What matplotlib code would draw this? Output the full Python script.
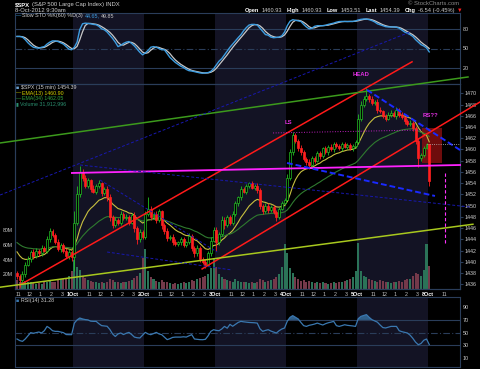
import matplotlib
matplotlib.use("Agg")
import numpy as np
import matplotlib.pyplot as plt
from matplotlib.patches import Rectangle

plt.rcParams["font.family"] = ["Liberation Sans", "DejaVu Sans"]

# 15-minute slots, 26 per session; slot 0 = Fri 28-Sep 9:30
first_slot = 5
day_names = ["28Sep", "1Oct", "2Oct", "3Oct", "4Oct", "5Oct", "8Oct"]
hour_ticks = [(6, "11"), (10, "12"), (14, "1"), (18, "2"), (22, "3")]
shaded_days = [1, 3, 5]

first_open = 1438.0
close_sep28 = [1437.5, 1436.8, 1437.8, 1439.5, 1440.5, 1441.8, 1441.0, 1442.0, 1441.5, 1442.5, 1442.0,
               1444.0, 1445.5, 1444.8, 1443.5, 1442.3, 1443.0, 1442.0, 1441.0, 1441.8, 1440.8]
close_oct1 = [1447.0, 1452.0, 1456.0, 1455.0, 1453.5, 1454.5, 1453.0, 1452.5, 1453.5, 1454.0, 1452.3, 1453.0, 1451.5,
              1448.0, 1446.5, 1447.5, 1447.0, 1448.5, 1447.8, 1448.0, 1447.0, 1448.3, 1446.0, 1444.0, 1445.3, 1444.5]
close_oct2 = [1448.5, 1449.5, 1448.0, 1448.5, 1447.5, 1449.0, 1446.5, 1445.5, 1444.2, 1444.5, 1443.5, 1443.2, 1443.5,
              1444.0, 1443.0, 1443.5, 1444.6, 1442.5, 1441.5, 1442.5, 1440.5, 1440.0, 1439.5, 1441.5, 1443.8, 1445.75]
close_oct3 = [1443.5, 1445.0, 1447.5, 1446.5, 1448.0, 1447.0, 1448.5, 1450.5, 1451.5, 1453.0, 1452.5, 1453.5, 1454.0,
              1453.2, 1453.5, 1452.8, 1450.0, 1449.0, 1450.0, 1449.2, 1449.8, 1448.8, 1448.0, 1449.5, 1450.5, 1450.99]
close_oct4 = [1455.0, 1459.5, 1462.5, 1461.5, 1460.3, 1459.5, 1458.3, 1457.8, 1457.2, 1458.5, 1458.0, 1459.3, 1458.8,
              1460.2, 1459.5, 1460.5, 1460.0, 1461.0, 1460.6, 1460.2, 1461.0, 1460.5, 1460.8, 1460.2, 1460.6, 1461.4]
close_oct5 = [1465.5, 1468.0, 1469.0, 1469.5, 1469.0, 1468.3, 1468.5, 1467.0, 1466.8, 1466.0, 1465.5, 1466.2, 1466.5,
              1466.0, 1467.0, 1466.2, 1465.7, 1465.0, 1464.5, 1464.8, 1463.8, 1461.5, 1458.5, 1459.0, 1460.3, 1460.93]
close_oct8 = [1454.39]

# wick lengths beyond the body (points)
wick_up = ([0.4, 0.3, 0.5, 0.4, 0.6, 0.3, 0.5, 0.4, 0.3, 0.5, 0.4, 0.6, 0.5, 0.4, 0.3, 0.5, 0.4, 0.3, 0.4, 0.5, 0.3]
           + [2.0, 1.5, 1.1, 0.6, 0.4, 0.5, 0.3, 0.6, 0.4, 0.5, 0.3, 0.4, 0.5, 0.6, 0.4, 0.5, 0.3, 0.6, 0.4, 0.5, 0.3, 0.4, 0.5, 0.3, 0.6, 0.4]
           + [0.6, 2.0, 0.5, 0.4, 0.6, 0.5, 0.3, 0.4, 0.5, 0.3, 0.4, 0.5, 0.3, 0.4, 0.5, 0.3, 0.6, 0.4, 0.3, 0.5, 0.4, 0.3, 0.5, 0.4, 0.6, 0.5]
           + [0.5, 0.4, 0.6, 0.5, 0.4, 0.3, 0.5, 0.4, 0.3, 0.5, 0.4, 0.3, 0.3, 0.4, 0.3, 0.5, 0.4, 0.3, 0.5, 0.4, 0.3, 0.4, 0.5, 0.3, 0.4, 0.3]
           + [0.6, 0.5, 0.64, 0.4, 0.3, 0.5, 0.4, 0.3, 0.5, 0.4, 0.3, 0.4, 0.5, 0.3, 0.4, 0.3, 0.5, 0.3, 0.4, 0.3, 0.4, 0.3, 0.4, 0.3, 0.4, 0.3]
           + [0.8, 0.6, 0.5, 1.46, 0.4, 0.5, 0.3, 0.4, 0.5, 0.3, 0.4, 0.5, 0.6, 0.4, 0.5, 0.3, 0.4, 0.3, 0.5, 0.4, 0.3, 0.4, 0.5, 0.4, 0.3, 0.2]
           + [0.0])
wick_down = ([0.5, 1.2, 0.3, 0.4, 0.3, 0.5, 0.4, 0.3, 0.5, 0.4, 0.3, 0.4, 0.5, 0.3, 0.4, 0.3, 0.5, 0.4, 0.3, 0.4, 0.6]
             + [2.4, 0.5, 0.4, 0.6, 0.3, 0.4, 0.5, 0.3, 0.4, 0.3, 0.5, 0.4, 0.6, 0.8, 0.5, 0.3, 0.4, 0.5, 0.3, 0.4, 0.5, 0.3, 0.6, 0.9, 0.4, 0.5]
             + [0.5, 0.4, 0.6, 0.3, 0.5, 0.4, 0.6, 0.5, 0.4, 0.3, 0.5, 0.4, 0.3, 0.5, 0.4, 0.3, 0.4, 0.5, 0.6, 0.4, 0.5, 0.4, 0.5, 0.3, 0.4, 0.3]
             + [1.5, 0.5, 0.4, 0.6, 0.3, 0.5, 0.4, 0.3, 0.5, 0.4, 0.3, 0.5, 0.4, 0.3, 0.4, 0.5, 0.6, 0.4, 0.3, 0.5, 0.4, 0.3, 0.7, 0.4, 0.3, 0.4]
             + [0.0, 0.5, 0.4, 0.3, 0.5, 0.4, 0.3, 0.5, 0.6, 0.3, 0.4, 0.3, 0.5, 0.4, 0.3, 0.4, 0.3, 0.5, 0.4, 0.3, 0.4, 0.3, 0.4, 0.3, 0.4, 0.3]
             + [0.3, 0.4, 0.5, 0.4, 0.5, 0.3, 0.4, 0.5, 0.3, 0.4, 0.5, 0.3, 0.4, 0.3, 0.5, 0.4, 0.3, 0.5, 0.4, 0.3, 0.5, 0.6, 1.6, 0.5, 0.4, 0.3]
             + [0.88])

# volume in millions
volume_m = ([12, 10, 9, 11, 10, 9, 8, 7, 8, 7, 9, 10, 11, 9, 10, 12, 14, 13, 15, 18, 25]
            + [40, 30, 26, 18, 15, 12, 11, 10, 9, 8, 9, 8, 10, 14, 12, 10, 9, 8, 9, 10, 11, 12, 15, 18, 22, 42]
            + [55, 24, 16, 13, 11, 10, 12, 10, 9, 8, 7, 8, 7, 8, 9, 8, 10, 12, 11, 13, 15, 16, 18, 20, 28, 42]
            + [30, 20, 16, 13, 12, 11, 10, 13, 11, 9, 10, 9, 8, 9, 8, 9, 14, 12, 10, 11, 12, 13, 16, 20, 30, 61]
            + [49, 28, 22, 16, 13, 11, 12, 10, 11, 9, 8, 9, 8, 9, 8, 7, 8, 9, 8, 9, 10, 11, 12, 14, 17, 24]
            + [62, 24, 18, 16, 13, 12, 11, 10, 12, 11, 10, 9, 8, 9, 10, 11, 10, 12, 13, 14, 18, 22, 20, 18, 26, 61]
            + [31.9])

# Slow STO %K(60)
sto_k = ([69, 69, 68, 64, 59, 55, 52, 51, 50.5, 52, 53, 57, 60, 62, 62, 61, 59, 57, 53, 49, 48]
         + [52, 60, 80, 89, 90, 89.5, 89, 88, 87.5, 85, 81, 79.5, 76, 71, 66, 60, 53, 55, 58, 60, 61, 58, 54, 49, 44, 40]
         + [43, 47, 52, 53, 52, 50, 48, 48, 42, 36, 32, 28, 25, 22, 20, 17, 15, 14.5, 13.5, 12.5, 11.5, 11, 11.5, 12, 14, 18]
         + [24, 30, 34, 40, 46, 52, 57, 62, 67, 71.7, 78, 83, 87, 88, 88, 87, 82, 77, 72, 71, 68, 67, 67.5, 68, 70, 76]
         + [86, 93, 95.4, 94.5, 93.5, 92.7, 88, 84, 81, 82, 85, 86, 86, 86, 86.5, 88, 89, 90, 91.5, 92.5, 92.7, 92.7, 92.5, 92.7, 92.7, 93.5]
         + [95, 96, 96.5, 96.5, 95.5, 94, 92, 89, 87.5, 86, 84.5, 84, 84, 84, 83.5, 82, 79, 76, 74, 72, 69, 64, 60, 56, 54, 51]
         + [44.65])

# RSI(14)
rsi14 = ([40, 37.5, 36.3, 40, 45, 50, 49, 50, 51, 49.5, 53, 59.8, 57, 53, 52, 52, 51, 50, 47, 46.8, 46.8]
         + [65, 70, 73, 71.5, 70.5, 70, 68, 67.7, 67.7, 64, 61, 60.5, 60, 55, 48, 44, 48, 49.4, 47, 49, 50.4, 47, 43, 42, 41.6, 46]
         + [50.4, 48, 46.8, 48.5, 50.4, 48, 46.8, 43, 39, 40.5, 42.5, 43, 43, 43, 43.5, 43, 45, 46.8, 40, 39.5, 39, 38.9, 39.5, 45, 52, 54.6]
         + [53.5, 53, 55.7, 59.8, 57, 63, 60, 63, 66, 67.7, 67, 66.5, 66, 65.8, 65.5, 65, 56, 52, 53.5, 54.6, 52.5, 51, 49.4, 53, 55.7, 57.3]
         + [68, 74, 76.7, 74, 71.5, 66, 61, 59.8, 61.5, 62.4, 63.5, 65, 63.5, 62, 64, 65.5, 66.5, 67.7, 61, 59.8, 61, 62.4, 61.5, 61, 60.5, 59.8]
         + [72, 75.6, 77, 78.3, 74, 70.4, 68.5, 66.5, 62, 58, 57.3, 58.5, 59.8, 59.8, 59.8, 53, 51.5, 50.5, 49.4, 46, 41, 35, 31, 33, 38, 40]
         + [31.28])

# hand-drawn annotations: (slot, price) end points
red_channel = [[(6.6, 1435.9), (150.2, 1475.6)], [(73.3, 1438.75), (175.1, 1468.45)]]
green_trend = [(-0.7, 1461.16), (170.7, 1472.9)]
lime_trend = [(-0.7, 1435.5), (172.5, 1446.7)]
neckline = [(25.6, 1455.82), (167.8, 1457.24)]
ls_level = [(99.3, 1462.94), (153.9, 1463.47)]
blue_thin = [[(-0.7, 1451.9), (149.5, 1480.9)], [(28.6, 1457.24), (171.4, 1449.77)],
             [(35.9, 1454.57), (78.8, 1441.76)], [(38.5, 1441.76), (84.3, 1438.56)]]
blue_thick = [[(133.7, 1470.6), (167.8, 1459.9)], [(104.4, 1457.6), (158.6, 1451.73)]]
rs_box = (153.9, 161.2, 1457.6, 1463.83)
target_line = (162.3, 1443.35, 1455.8)
prev_close = (155.7, 167.8, 1460.93)
labels = [("LS", 104.8, 1464.8), ("HEAD", 131.5, 1473.3), ("RS??", 157.1, 1466.05)]

closes = close_sep28 + close_oct1 + close_oct2 + close_oct3 + close_oct4 + close_oct5 + close_oct8
opens = [first_open] + closes[:-1]
n = len(closes)
xs = np.arange(first_slot, first_slot + n) + 0.5
up = [c >= o for o, c in zip(opens, closes)]


def ema(values, span, seed):
    k = 2 / (span + 1)
    out, prev = [], seed
    for v in values:
        prev = prev + k * (v - prev)
        out.append(prev)
    return out


ema13 = ema(closes, 13, 1442.5)
ema34 = ema(closes, 34, 1443.8)
sto_d = [np.mean(sto_k[max(0, i - 2):i + 1]) for i in range(n)]

W, H = 480, 369
x_lo, x_hi = 4.76, 167.77
edge = "#2a3d5a"
band = "#131324"
txt = "#d0d0d0"
tick_size = 3.9

fig = plt.figure(figsize=(4.8, 3.69), dpi=100, facecolor="black")
renderer = fig.canvas.get_renderer()


def panel(top, bottom, face="black"):
    a = fig.add_axes([15 / W, 1 - bottom / H, 445 / W, (bottom - top) / H], facecolor=face)
    a.set_xlim(x_lo, x_hi)
    for s in a.spines.values():
        s.set_color(edge)
        s.set_linewidth(0.8)
    a.tick_params(colors=txt, labelsize=tick_size, length=0, pad=2)
    a.set_xticks([])
    return a


def shade(a):
    for d in shaded_days:
        a.axvspan(26 * d, 26 * d + 26, color=band, lw=0, zorder=0)


def ftext(px, py, s, size=3.9, color=txt, bold=False):
    return fig.text(px / W, 1 - py / H, s, va="center", ha="left", fontsize=size, color=color,
                    fontweight="bold" if bold else "normal")


def run_text(px, py, parts, size):
    # parts: (text, colour, bold, gap after in px)
    for s, color, bold, gap in parts:
        t = ftext(px, py, s, size, color, bold)
        px += t.get_window_extent(renderer).width + gap


# --- stochastic panel ---
ax_sto = panel(13, 84)
shade(ax_sto)
ax_sto.set_ylim(-6, 106)
for lvl, ls in [(80, "-"), (50, (0, (6, 2, 1, 2))), (20, "-")]:
    ax_sto.axhline(lvl, color=edge, lw=0.8, ls=ls, zorder=1)
ax_sto.plot(xs, sto_d, color="#c8c8c8", lw=0.9, zorder=2)
ax_sto.plot(xs, sto_k, color="#3d9de0", lw=1.0, zorder=3)
ax_sto.yaxis.tick_right()
ax_sto.set_yticks([20, 50, 80])

# --- volume (under the price panel) ---
ax_vol = panel(84, 289)
shade(ax_vol)
ax_vol.set_ylim(0, 279)
ax_vol.bar(xs, volume_m, width=0.75, color=["#2b7358" if u else "#74394a" for u in up], lw=0, zorder=1)
ax_vol.set_yticks([20, 40, 60, 80])
ax_vol.set_yticklabels(["20M", "40M", "60M", "80M"])
ax_vol.tick_params(axis="y", labelsize=3.7, pad=1.5)

# --- price panel ---
ax = panel(84, 289, face="none")
ax.set_ylim(1435.18, 1471.65)
highs = [max(o, c) + w for o, c, w in zip(opens, closes, wick_up)]
lows = [min(o, c) - w for o, c, w in zip(opens, closes, wick_down)]
cols = ["#22c022" if u else "#ff2020" for u in up]
ax.vlines(xs, lows, highs, colors=cols, lw=0.6, zorder=4)
for x, o, c, u, col in zip(xs, opens, closes, up, cols):
    ax.add_patch(Rectangle((x - 0.36, min(o, c)), 0.72, max(abs(c - o), 0.12),
                           facecolor="black" if u else col, edgecolor=col, lw=0.5, zorder=5))
ax.plot(xs, ema13, color="#c8c040", lw=0.8, zorder=3)
ax.plot(xs, ema34, color="#2f7a2f", lw=0.8, zorder=3)

x0, x1, y0, y1 = rs_box
ax.add_patch(Rectangle((x0, y0), x1 - x0, y1 - y0, facecolor="#8a1010", alpha=0.8, lw=0, zorder=2))


def seg(pts, **kw):
    (a, b), (c, d) = pts
    ax.plot([a, c], [b, d], clip_on=False, **kw)


for pts in red_channel:
    seg(pts, color="#ff1a1a", lw=1.1, zorder=6)
seg(green_trend, color="#3c9a1c", lw=1.1, zorder=6)
seg(lime_trend, color="#a8c81e", lw=1.1, zorder=6)
seg(neckline, color="#ff22ff", lw=1.3, zorder=6)
seg(ls_level, color="#c020c0", lw=0.7, ls=":", zorder=6)
for pts in blue_thin:
    seg(pts, color="#1818b0", lw=0.7, ls=(0, (3, 2)), zorder=6)
for pts in blue_thick:
    seg(pts, color="#1a2aff", lw=1.4, ls=(0, (3, 1.5)), zorder=6)
ax.vlines(target_line[0], target_line[1], target_line[2], colors="#ff33ff", lw=0.8, ls=(0, (3, 2)), zorder=6)
ax.hlines(prev_close[2], prev_close[0], prev_close[1], colors="#bbbbbb", lw=0.6, ls=":", zorder=6)
for s, x, y in labels:
    ax.text(x, y, s, color="#e030e0", fontsize=4.3, fontweight="bold", ha="center", va="center", zorder=7)

ax.yaxis.tick_right()
ax.set_yticks(np.arange(1436, 1471, 2))
ax.tick_params(axis="y", length=2, color=edge, pad=1.5)

ticks, tick_labels = [], []
for d, name in enumerate(day_names):
    base = 26 * d
    if x_lo < base < x_hi:
        ticks.append(base)
        tick_labels.append(name)
    for off, lab in hour_ticks:
        if x_lo < base + off < x_hi - 3:
            ticks.append(base + off)
            tick_labels.append(lab)
ax.set_xticks(ticks)
ax.set_xticklabels(tick_labels)
ax.tick_params(axis="x", pad=2, labelsize=3.9)
for t in ax.get_xticklabels():
    if t.get_text().endswith("Oct"):
        t.set_fontweight("bold")
        t.set_color("white")
    else:
        t.set_color("#c0c0c0")

# --- RSI panel ---
ax_rsi = panel(297, 367)
shade(ax_rsi)
ax_rsi.set_ylim(-4, 106)
for lvl, ls in [(70, "-"), (50, (0, (6, 2, 1, 2))), (30, "-")]:
    ax_rsi.axhline(lvl, color=edge, lw=0.8, ls=ls, zorder=1)
rsi_arr = np.array(rsi14)
ax_rsi.fill_between(xs, rsi_arr, 70, where=rsi_arr > 70, interpolate=True, color="#2f5f8a", lw=0, zorder=2)
ax_rsi.plot(xs, rsi14, color="#3a78b0", lw=0.9, zorder=3)
ax_rsi.yaxis.tick_right()
ax_rsi.set_yticks([10, 30, 50, 70, 90])

# --- header and legends ---
run_text(15, 4.5, [("$SPX", "white", True, 2), ("(S&P 500 Large Cap Index) INDX", txt, False, 0)], 4.2)
ftext(15, 10.5, "8-Oct-2012 9:30am", 4.2)
ftext(408, 3.5, "\u00a9 StockCharts.com", 4.2, "#8a8a8a")
run_text(245, 10.5, [("Open", "white", True, 2), ("1460.93", txt, False, 5),
                     ("High", "white", True, 2), ("1460.93", txt, False, 5),
                     ("Low", "white", True, 2), ("1453.51", txt, False, 5),
                     ("Last", "white", True, 2), ("1454.39", txt, False, 5),
                     ("Chg", "white", True, 2), ("-6.54 (-0.45%)", txt, False, 2),
                     ("\u25bc", "#ff2020", False, 0)], 4.1)

run_text(16, 16, [("\u2014", "#3d9de0", False, 1), ("Slow STO %K(60) %D(3)", txt, False, 1.5),
                  ("44.65,", "#3d9de0", False, 1.5), ("49.85", "#c8c8c8", False, 0)], 3.9)

run_text(16, 87.5, [("\u25a0", "#6aa0d0", False, 1.5), ("$SPX (15 min) 1454.39", txt, False, 0)], 3.8)
run_text(16, 93.3, [("\u2014", "#d4d000", False, 1), ("EMA(13) 1460.90", "#d4d000", False, 0)], 3.8)
run_text(16, 98.7, [("\u2014", "#2fa040", False, 1), ("EMA(34) 1462.05", "#2fa040", False, 0)], 3.8)
run_text(16, 103.7, [("\u25ae", "#2b9070", False, 1.5), ("Volume 31,912,996", "#2b9070", False, 0)], 3.8)

run_text(16, 300.5, [("\u25a0", "#3a78b0", False, 1.5), ("RSI(14) 31.28", txt, False, 0)], 3.8)

fig.savefig("out.png", dpi=100, facecolor="black")
